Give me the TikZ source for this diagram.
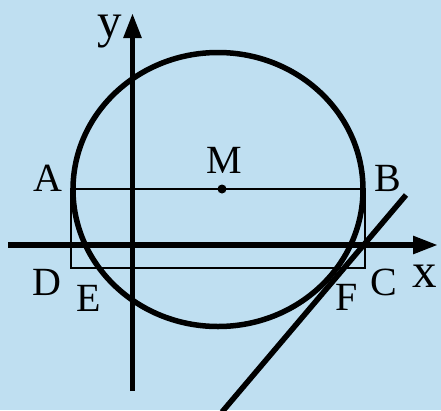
\documentclass[tikz,border=0pt]{standalone}
\usepackage{fontspec}
\setmainfont{Liberation Serif}
\usetikzlibrary{arrows.meta}
\definecolor{bg}{RGB}{191,223,241}
\begin{document}
\begin{tikzpicture}[x=1pt,y=-1pt,
  lbl/.style={font=\fontsize{40}{40}\selectfont, anchor=base, inner sep=0pt},
  axlbl/.style={font=\fontsize{49}{49}\selectfont, anchor=base, inner sep=0pt},
  axisline/.style={line width=5.5pt, -{Triangle[length=25pt,width=17pt]}},
  thinline/.style={line width=2.4pt},
  heavyline/.style={line width=5.5pt}]
\fill[bg] (0,0) rectangle (441,410);
\useasboundingbox (0,0) rectangle (441,410);
% coordinates
\coordinate (xs) at (8,245);
\coordinate (xe) at (438,245);
\coordinate (ys) at (132.5,391);
\coordinate (ye) at (132.5,13);
\coordinate (A) at (71,189);
\coordinate (B) at (365,189);
\coordinate (C) at (365,268);
\coordinate (D) at (71,268);
\coordinate (M) at (222,189);
\coordinate (O) at (218,189.5);
\coordinate (T1) at (222,412);
\coordinate (T2) at (406,195);
% rectangle and chord
\draw[thinline] (A) -- (B) -- (C) -- (D) -- cycle;
% circle
\draw[heavyline] (O) ellipse [x radius=145, y radius=137];
% axes
\draw[axisline] (xs) -- (xe);
\draw[axisline] (ys) -- (ye);
% tangent line
\draw[heavyline] (T1) -- (T2);
% centre point
\fill (M) circle [radius=4.5];
% labels
\node[lbl] (lA) at (48,191) {A};
\node[lbl] (lB) at (388,191) {B};
\node[lbl] (lM) at (224,173) {M};
\node[lbl] (lD) at (47,295) {D};
\node[lbl] (lC) at (384,295) {C};
\node[lbl] (lE) at (89,311) {E};
\node[lbl] (lF) at (347,310) {F};
\node[axlbl] (lx) at (425,287) {x};
\node[axlbl] (ly) at (110,37) {y};
\end{tikzpicture}
\end{document}
